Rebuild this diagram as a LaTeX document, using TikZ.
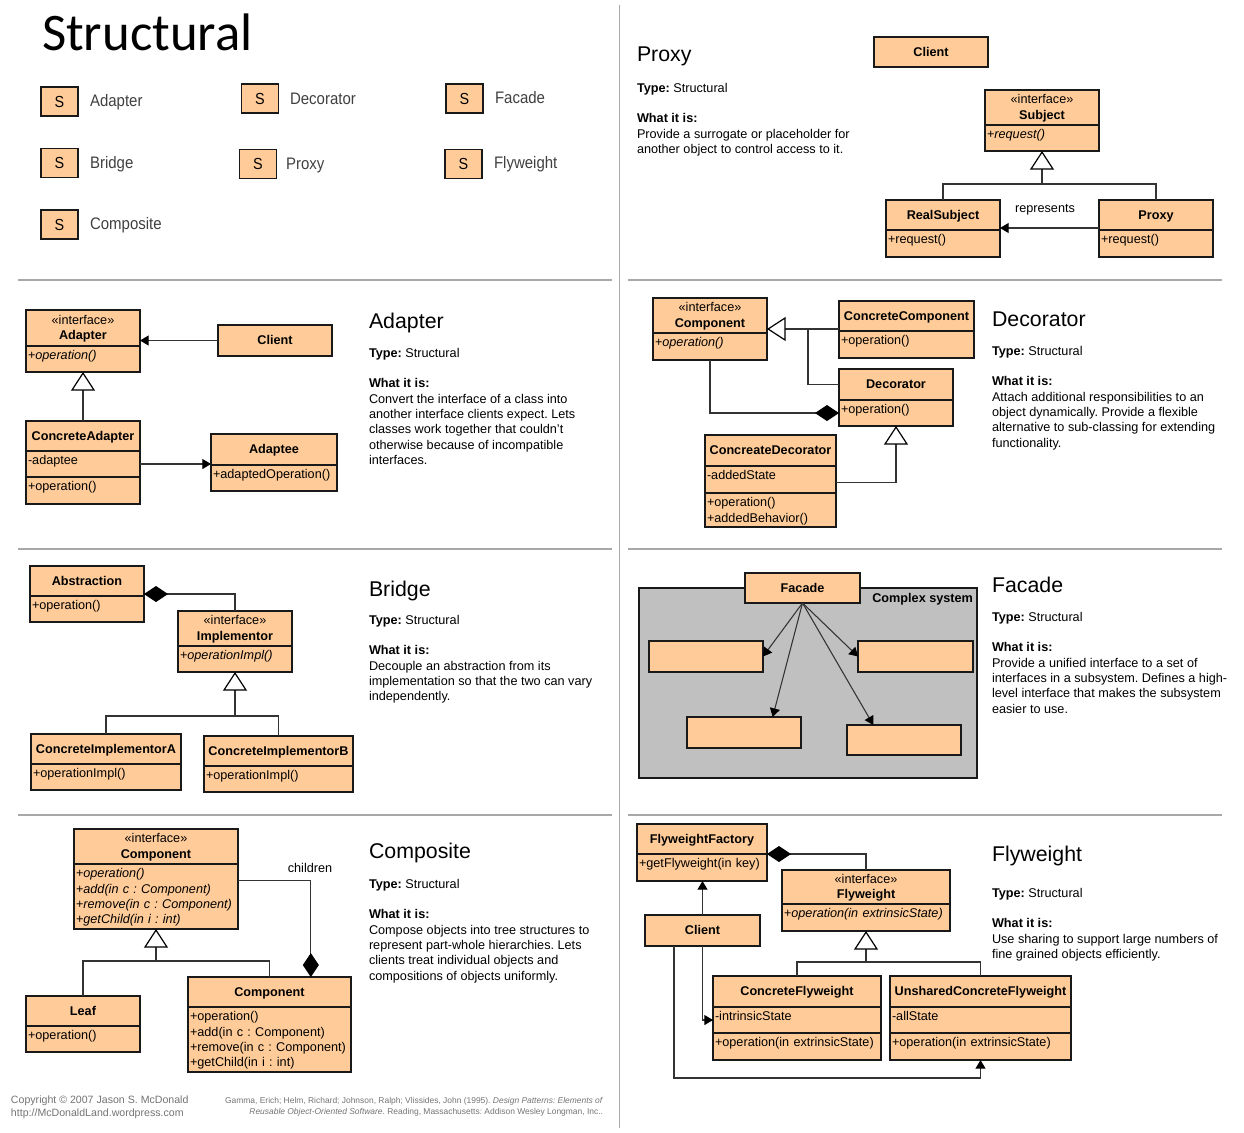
\documentclass[tikz,border=0pt]{standalone}
\usepackage{fontspec}
\setmainfont{Liberation Sans}
\newfontfamily\titlefont{Carlito}
\usepackage{xcolor}
\usetikzlibrary{arrows.meta}
\usetikzlibrary{positioning}
\definecolor{umlfill}{HTML}{FFCC99}
\definecolor{panelgray}{HTML}{C0C0C0}
\definecolor{rulegray}{HTML}{A8A8A8}
\newcommand{\umlfont}{\fontsize{9.5}{11.5}\selectfont}
\frenchspacing
\begin{document}
\begin{tikzpicture}[
    x=.75pt,y=-.75pt,
    outer sep=0pt,node distance=0cm, % compartments touch each other
    boxline/.style={draw=black!90,line width=1.2pt,fill=umlfill},
    classhead/.style 2 args={boxline,anchor=north west,align=center,inner sep=0pt,font=\umlfont,
        minimum width=#1*.75pt,minimum height=#2*.75pt,text height=7pt,text depth=.75pt},
    ifacehead/.style 2 args={classhead={#1}{#2},text height=19pt,text depth=1.5pt},
    classbody/.style 2 args={boxline,align=left,inner xsep=1.5pt,inner ysep=0pt,font=\umlfont,
        text width=#1*.75pt-3pt,text height=10.25pt,text depth=#2*.75pt-10.25pt},
    iconbox/.style={boxline,line width=1.4pt,inner sep=0pt,minimum width=27.75pt,minimum height=21.75pt,font=\fontsize{12}{14}\selectfont\addfontfeature{FakeStretch=0.9}},
    iconlabel/.style={anchor=west,inner sep=0pt,yshift=-1pt,text=black!75,font=\fontsize{12.5}{14}\selectfont\addfontfeature{FakeStretch=0.9}},
    patternname/.style={anchor=base west,inner sep=0pt,font=\fontsize{16}{19}\selectfont},
    patterntext/.style={anchor=north west,inner sep=0pt,align=left,font=\umlfont},
    sectionrule/.style={draw=rulegray,line width=1.1pt},
    link/.style={draw=black!80,line width=.8pt},
    uses/.style={link,-{Triangle[color=black,length=6.5pt,width=7.5pt]}},
    isa/.style={link,-{Triangle[open,color=black,fill=white,line width=.9pt,length=14pt,width=18pt]}},
    hasa/.style={link,-{Diamond[color=black,length=18pt,width=12pt]}},
    ]
    \useasboundingbox (0,0) rectangle (1244,1132);

    % page rules
    \draw [sectionrule] (619.5,5) -- (619.5,1128);
    \draw [sectionrule] (18,280) -- (612,280);
    \draw [sectionrule] (18,549) -- (612,549);
    \draw [sectionrule] (18,815) -- (612,815);
    \draw [sectionrule] (628,280) -- (1222,280);
    \draw [sectionrule] (628,549) -- (1222,549);
    \draw [sectionrule] (628,815) -- (1222,815);

    % index
    \node (title) at (42,50) [anchor=base west,inner sep=0pt,font=\titlefont\fontsize{39.6}{44}\selectfont] {Structural};
    \node (icoadapter)   at (59.5,101.5) [iconbox] {S};
    \node (icobridge)    at (59.5,163)   [iconbox] {S};
    \node (icocomposite) at (59.5,224.5) [iconbox] {S};
    \node (icodecorator) at (260,98.5)   [iconbox] {S};
    \node (icoproxy)     at (258,164)    [iconbox] {S};
    \node (icofacade)    at (464.5,98.5) [iconbox] {S};
    \node (icoflyweight) at (463.5,164)  [iconbox] {S};
    \node (lbladapter)   at (90,100.5)  [iconlabel] {Adapter};
    \node (lblbridge)    at (90,162.5)  [iconlabel] {Bridge};
    \node (lblcomposite) at (90,224)    [iconlabel] {Composite};
    \node (lbldecorator) at (290,97.5)  [iconlabel] {Decorator};
    \node (lblproxy)     at (286,164)   [iconlabel] {Proxy};
    \node (lblfacade)    at (495,96.5)  [iconlabel] {Facade};
    \node (lblflyweight) at (494,163)   [iconlabel] {Flyweight};

    % proxy
    \node (pxyname) at (637,61) [patternname] {Proxy};
    \node (pxytext) at (637,83) [patterntext] {\textbf{Type:} Structural\\[\baselineskip]\textbf{What it is:}\\Provide a surrogate or placeholder for\\another object to control access to it.};
    \node (pxyclient) at (874,37) [classhead={114}{30}] {\textbf{Client}};
    \node (subject)   at (985,90) [ifacehead={114}{35}] {«interface»\\\textbf{Subject}};
    \node (subjectop) [below=of subject] [classbody={114}{26}] {+\textit{request()}};
    \node (realsub)   at (886,200) [classhead={114}{30}] {\textbf{RealSubject}};
    \node (realsubop) [below=of realsub] [classbody={114}{27}] {+request()};
    \node (proxy)     at (1099,200) [classhead={114}{30}] {\textbf{Proxy}};
    \node (proxyop)   [below=of proxy] [classbody={114}{27}] {+request()};
    \coordinate (pxybus) at (subjectop.south |- 0,184);
    \draw [link] (realsub.north) |- (pxybus);
    \draw [link] (proxy.north) |- (pxybus);
    \draw [isa]  (pxybus) -- (subjectop.south);
    \draw [uses] ([yshift=1.5pt]proxy.south west) -- ([yshift=1.5pt]realsub.south east);
    \node (represents) at (1045,210) [inner sep=0pt,font=\umlfont] {represents};

    % adapter
    \node (adpname) at (369,328) [patternname] {Adapter};
    \node (adptext) at (369,348) [patterntext] {\textbf{Type:} Structural\\[\baselineskip]\textbf{What it is:}\\Convert the interface of a class into\\another interface clients expect. Lets\\classes work together that couldn't\\otherwise because of incompatible\\interfaces.};
    \node (target)   at (26,310) [ifacehead={114}{36}] {«interface»\\\textbf{Adapter}};
    \node (targetop) [below=of target] [classbody={114}{26}] {+\textit{operation()}};
    \node (adpclient) at (218,325) [classhead={114}{31}] {\textbf{Client}};
    \node (cadapter)  at (26,421) [classhead={114}{30}] {\textbf{ConcreteAdapter}};
    \node (cadapterst) [below=of cadapter] [classbody={114}{26}] {-adaptee};
    \node (cadapterop) [below=of cadapterst] [classbody={114}{27}] {+operation()};
    \node (adaptee)   at (211,434) [classhead={126}{31}] {\textbf{Adaptee}};
    \node (adapteeop) [below=of adaptee] [classbody={126}{26}] {+adaptedOperation()};
    \draw [isa]  (cadapter.north) -- (targetop.south);
    \draw [uses] (adpclient.west) -- (adpclient.west -| target.east);
    \draw [uses] (cadapterst.east) -- (cadapterst.east -| adaptee.west);

    % decorator
    \node (decname) at (992,326) [patternname] {Decorator};
    \node (dectext) at (992,346) [patterntext] {\textbf{Type:} Structural\\[\baselineskip]\textbf{What it is:}\\Attach additional responsibilities to an\\object dynamically. Provide a flexible\\alternative to sub-classing for extending\\functionality.};
    \node (deccomp)   at (653,298) [ifacehead={114}{35}] {«interface»\\\textbf{Component}};
    \node (deccompop) [below=of deccomp] [classbody={114}{27}] {+\textit{operation()}};
    \node (ccomp)     at (839,301) [classhead={135}{30}] {\textbf{ConcreteComponent}};
    \node (ccompop)   [below=of ccomp] [classbody={135}{27}] {+operation()};
    \node (decorator) at (839,369) [classhead={114}{31}] {\textbf{Decorator}};
    \node (decoratorop) [below=of decorator] [classbody={114}{26}] {+operation()};
    \node (cdeco)     at (705,435) [classhead={131}{31}] {\textbf{ConcreateDecorator}};
    \node (cdecost)   [below=of cdeco] [classbody={131}{27}] {-addedState};
    \node (cdecoop)   [below=of cdecost] [classbody={131}{34}] {+operation()\\+addedBehavior()};
    \coordinate (decjoin) at (808,329);
    \draw [isa]  (decjoin -| ccomp.west) -- (decjoin -| deccomp.east);
    \draw [link] (decorator.west) -| (decjoin);
    \draw [hasa] (deccompop.south) |- (decoratorop.west);
    \draw [isa]  ([yshift=-2pt]cdecost.east) -| (decoratorop.south);

    % bridge
    \node (brgname) at (369,596) [patternname] {Bridge};
    \node (brgtext) at (369,615) [patterntext] {\textbf{Type:} Structural\\[\baselineskip]\textbf{What it is:}\\Decouple an abstraction from its\\implementation so that the two can vary\\independently.};
    \node (abstraction) at (30,566) [classhead={114}{30}] {\textbf{Abstraction}};
    \node (abstractop)  [below=of abstraction] [classbody={114}{26}] {+operation()};
    \node (implementor) at (178,611) [ifacehead={114}{35}] {«interface»\\\textbf{Implementor}};
    \node (implementop) [below=of implementor] [classbody={114}{26}] {+\textit{operationImpl()}};
    \node (cimpla)   at (31,734) [classhead={150}{30}] {\textbf{ConcreteImplementorA}};
    \node (cimplaop) [below=of cimpla] [classbody={150}{26}] {+operationImpl()};
    \node (cimplb)   at (204,736) [classhead={149}{30}] {\textbf{ConcreteImplementorB}};
    \node (cimplbop) [below=of cimplb] [classbody={149}{26}] {+operationImpl()};
    \coordinate (brgbus) at (implementop.south |- 0,716);
    \draw [link] (cimpla.north) |- (brgbus);
    \draw [link] (cimplb.north) |- (brgbus);
    \draw [isa]  (brgbus) -- (implementop.south);
    \draw [hasa] (implementor.north) |- ([yshift=1.5pt]abstraction.south east);

    % facade
    \node (facname) at (992,592) [patternname] {Facade};
    \node (factext) at (992,612) [patterntext] {\textbf{Type:} Structural\\[\baselineskip]\textbf{What it is:}\\Provide a unified interface to a set of\\interfaces in a subsystem. Defines a high-\\level interface that makes the subsystem\\easier to use.};
    \node (complex) at (639,588) [anchor=north west,draw=black!90,line width=1.2pt,fill=panelgray,minimum width=253.5pt,minimum height=142.5pt,inner sep=0pt] {};
    \node (complexlbl) at (973,599) [anchor=east,inner sep=0pt,yshift=-.5pt,font=\umlfont] {\textbf{Complex system}};
    \node (facade) at (745,573) [classhead={115}{30}] {\textbf{Facade}};
    \node (partw)  at (649,641) [classhead={114}{31}] {};
    \node (parte)  at (858,641) [classhead={115}{31}] {};
    \node (parts)  at (687,717) [classhead={114}{31}] {};
    \node (partr)  at (847,725) [classhead={114}{30}] {};
    \draw [uses] (facade.south) -- (partw.east);
    \draw [uses] (facade.south) -- (parte.west);
    \draw [uses] (facade.south) -- ([xshift=21.5pt]parts.north);
    \draw [uses] (facade.south) -- ([xshift=-23pt]partr.north);

    % composite
    \node (cmpname) at (369,858) [patternname] {Composite};
    \node (cmptext) at (369,879) [patterntext] {\textbf{Type:} Structural\\[\baselineskip]\textbf{What it is:}\\Compose objects into tree structures to\\represent part-whole hierarchies. Lets\\clients treat individual objects and\\compositions of objects uniformly.};
    \node (icomp)   at (74,829) [ifacehead={164}{35}] {«interface»\\\textbf{Component}};
    \node (icompop) [below=of icomp] [classbody={164}{65}] {+\textit{operation()}\\+\textit{add(in c : Component)}\\+\textit{remove(in c : Component)}\\+\textit{getChild(in i : int)}};
    \node (leaf)    at (26,996) [classhead={114}{30}] {\textbf{Leaf}};
    \node (leafop)  [below=of leaf] [classbody={114}{26}] {+operation()};
    \node (comp)    at (188,977) [classhead={163}{30}] {\textbf{Component}};
    \node (compop)  [below=of comp] [classbody={163}{65}] {+operation()\\+add(in c : Component)\\+remove(in c : Component)\\+getChild(in i : int)};
    \coordinate (cmpbus) at (icompop.south |- 0,961);
    \draw [link] (leaf.north) |- (cmpbus);
    \draw [link] (comp.north) |- (cmpbus);
    \draw [isa]  (cmpbus) -- (icompop.south);
    \draw [hasa] ([yshift=12pt]icompop.east) -| ([xshift=31pt]comp.north);
    \node (children) at (310,868) [inner sep=0pt,font=\umlfont] {children};

    % flyweight
    \node (flyname) at (992,861) [patternname] {Flyweight};
    \node (flytext) at (992,888) [patterntext] {\textbf{Type:} Structural\\[\baselineskip]\textbf{What it is:}\\Use sharing to support large numbers of\\fine grained objects efficiently.};
    \node (factory)   at (637,824) [classhead={130}{30}] {\textbf{FlyweightFactory}};
    \node (factoryop) [below=of factory] [classbody={130}{27}] {+getFlyweight(in key)};
    \node (iflyw)     at (782,870) [ifacehead={168}{34}] {«interface»\\\textbf{Flyweight}};
    \node (iflywop)   [below=of iflyw] [classbody={168}{27}] {+\textit{operation(in extrinsicState)}};
    \node (flyclient) at (645,915) [classhead={115}{31}] {\textbf{Client}};
    \node (cflyw)     at (713,976) [classhead={168}{31}] {\textbf{ConcreteFlyweight}};
    \node (cflywst)   [below=of cflyw] [classbody={168}{26}] {-intrinsicState};
    \node (cflywop)   [below=of cflywst] [classbody={168}{27}] {+operation(in extrinsicState)};
    \node (uflyw)     at (890,976) [classhead={181}{31}] {\textbf{UnsharedConcreteFlyweight}};
    \node (uflywst)   [below=of uflyw] [classbody={181}{26}] {-allState};
    \node (uflywop)   [below=of uflywst] [classbody={181}{27}] {+operation(in extrinsicState)};
    \coordinate (flybus) at (iflywop.south |- 0,962);
    \coordinate (flyback) at (674,1078);
    \draw [link] (cflyw.north) |- (flybus);
    \draw [link] (uflyw.north) |- (flybus);
    \draw [isa]  (flybus) -- (iflywop.south);
    \draw [hasa] (iflyw.north) |- (factory.south east);
    \draw [uses] (flyclient.north) -- (flyclient.north |- factoryop.south);
    \draw [uses] (flyclient.south) |- (cflywst.west);
    \draw [uses] (flyback |- flyclient.south) -- (flyback) -| (uflywop.south);

    % footer
    \node (copyright) at (11,1116) [anchor=base west,inner sep=0pt,align=left,text=black!55,font=\fontsize{7.95}{9.4}\selectfont] {Copyright © 2007 Jason S. McDonald\\http://McDonaldLand.wordpress.com};
    \node (citation) at (603,1114.5) [anchor=base east,inner sep=0pt,align=right,text=black!55,font=\fontsize{6.33}{8}\selectfont] {Gamma, Erich; Helm, Richard; Johnson, Ralph; Vlissides, John (1995). \textit{Design Patterns: Elements of}\\\textit{Reusable Object-Oriented Software}. Reading, Massachusetts: Addison Wesley Longman, Inc..};
\end{tikzpicture}
\end{document}
